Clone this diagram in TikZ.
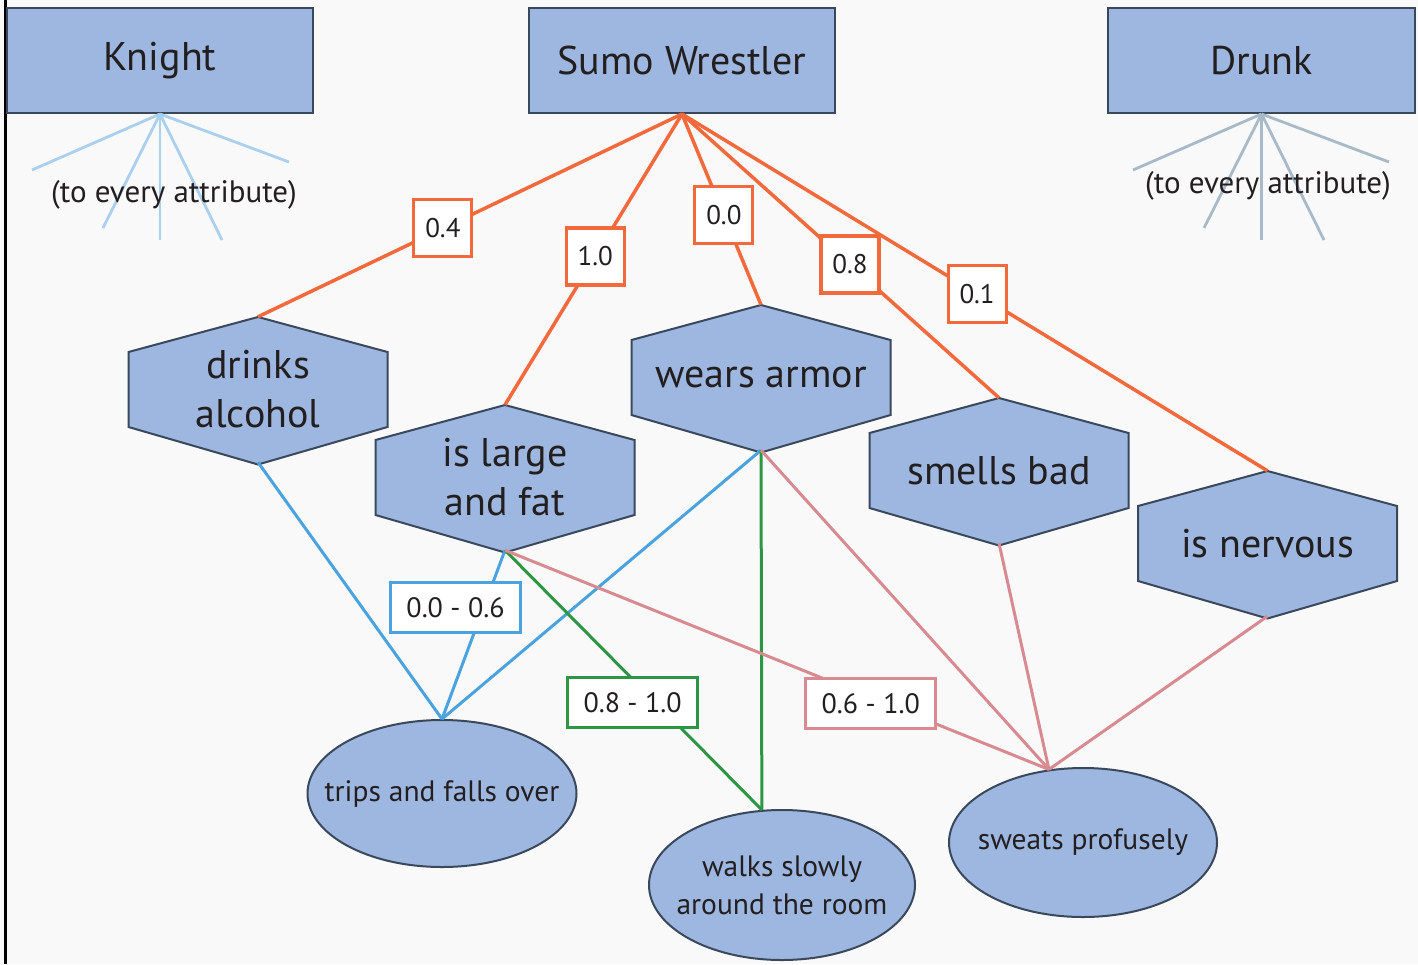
\documentclass[tikz,border=0pt]{standalone}
\usepackage{fontspec}
\setmainfont{PT Sans}
\usetikzlibrary{shapes.geometric}

\definecolor{boxfill}{RGB}{157,183,224}
\definecolor{boxline}{RGB}{58,72,92}
\definecolor{sumoedge}{RGB}{242,106,60}
\definecolor{tripedge}{RGB}{74,163,222}
\definecolor{walkedge}{RGB}{44,150,68}
\definecolor{sweatedge}{RGB}{216,138,145}
\definecolor{knightfan}{RGB}{170,208,238}
\definecolor{drunkfan}{RGB}{168,186,200}
\definecolor{paper}{RGB}{249,249,250}
\definecolor{ink}{RGB}{35,31,32}

\tikzset{
  person/.style={draw=boxline, fill=boxfill, line width=2pt, minimum width=306pt,
    minimum height=105pt, inner sep=0pt, text=ink, font=\fontsize{40}{46}\selectfont},
  attribute/.style={minimum width=259pt, minimum height=145pt, inner sep=0pt,
    align=center, text=ink, font=\fontsize{40}{49}\selectfont},
  hexline/.style={draw=boxline, fill=boxfill, line width=2pt},
  behaviour/.style={ellipse, draw=boxline, fill=boxfill, line width=2pt, inner ysep=0pt,
    inner xsep=-30pt, align=center, text=ink, font=\fontsize{29.5}{38}\selectfont},
  weight/.style={draw=sumoedge, fill=white, line width=3.2pt, minimum width=58pt,
    minimum height=57pt, inner sep=0pt, text=ink, font=\fontsize{27}{30}\selectfont},
  rangebox/.style={fill=white, line width=2.8pt, minimum width=130pt, minimum height=50pt,
    inner sep=0pt, text=ink, font=\fontsize{28}{30}\selectfont},
  fanline/.style={line width=2.8pt},
  fannote/.style={text=ink, font=\fontsize{31}{34}\selectfont},
  sumoline/.style={draw=sumoedge, line width=3.5pt},
  tripline/.style={draw=tripedge, line width=3pt},
  walkline/.style={draw=walkedge, line width=3pt},
  sweatline/.style={draw=sweatedge, line width=3pt},
}

% hexagon with a named text node in it: name, x, y, text
\newcommand{\hexattr}[4]{%
  \filldraw[hexline] (#2,#3) ++(0,-72.5) -- ++(129.5,35) -- ++(0,75) -- ++(-129.5,37.5)
    -- ++(-129.5,-37.5) -- ++(0,-75) -- cycle;
  \node[attribute] (#1) at (#2,#3) {#4};
}

\begin{document}
\begin{tikzpicture}[x=1pt,y=-1pt]
\fill[paper] (0,0) rectangle (1418,964);
\useasboundingbox (0,0) rectangle (1418,964);
\draw[line width=3pt] (5,0) -- (5,964);

% people
\node[person] (knight) at (160,60.5) {Knight};
\node[person] (sumo) at (682,60.5) {Sumo Wrestler};
\node[person, minimum width=307pt] (drunk) at (1261.5,60.5) {Drunk};

\foreach \i/\x/\y in {1/32/170, 2/103/228, 3/160/240, 4/222/240, 5/289/162} {
  \coordinate (kfan\i) at (\x,\y);
  \draw[fanline, knightfan] (knight.south) -- (kfan\i);
}
\foreach \i/\x/\y in {1/1133/170, 2/1204/228, 3/1261.5/240, 4/1324/240, 5/1389/162} {
  \coordinate (dfan\i) at (\x,\y);
  \draw[fanline, drunkfan] (drunk.south) -- (dfan\i);
}
\node[fannote] (knightnote) at (174,195) {(to every attribute)};
\node[fannote] (drunknote) at (1268,186) {(to every attribute)};

% attributes
\hexattr{drinks}{258}{389.5}{drinks\\alcohol}
\hexattr{large}{505}{477.5}{is large\\and fat}
\hexattr{armor}{761}{377.5}{wears armor}
\hexattr{smells}{999}{470.5}{smells bad}
\hexattr{nervous}{1267.5}{543.5}{is nervous}

% behaviours
\node[behaviour, minimum width=269pt, minimum height=147pt] (trips) at (442,793.5) {trips and falls over};
\node[behaviour, minimum width=266pt, minimum height=150pt] (walks) at (782,885) {walks slowly\\around the room};
\node[behaviour, minimum width=268pt, minimum height=149pt] (sweats) at (1083,842.5) {sweats profusely};

% sumo wrestler weights
\draw[sumoline] (sumo.south) -- node[weight, pos=0.564] (w1) {0.4} (drinks.north);
\draw[sumoline] (sumo.south) -- node[weight, pos=0.49] (w2) {1.0} (large.north);
\draw[sumoline] (sumo.south) -- node[weight, pos=0.53] (w3) {0.0} (armor.north);
\draw[sumoline] (sumo.south) -- node[weight, pos=0.53] (w4) {0.8} (smells.north);
\draw[sumoline] (sumo.south) -- node[weight, pos=0.504] (w5) {0.1} (nervous.north);

% attribute ranges
\draw[tripline] (drinks.south) -- (trips.north);
\draw[tripline] (armor.south) -- (trips.north);
\draw[tripline] (large.south) -- node[rangebox, draw=tripedge, pos=0.341, xshift=-28pt] (r1) {0.0 - 0.6} (trips.north);
\draw[walkline] (armor.south) -- (walks.105);
\draw[walkline] (large.south) -- node[rangebox, draw=walkedge, pos=0.586, xshift=-23pt] (r2) {0.8 - 1.0} (walks.105);
\draw[sweatline] (armor.south) -- (sweats.115);
\draw[sweatline] (smells.south) -- (sweats.115);
\draw[sweatline] (nervous.south) -- (sweats.115);
\draw[sweatline] (large.south) -- node[rangebox, draw=sweatedge, pos=0.70, xshift=-15pt] (r3) {0.6 - 1.0} (sweats.115);
\end{tikzpicture}
\end{document}
